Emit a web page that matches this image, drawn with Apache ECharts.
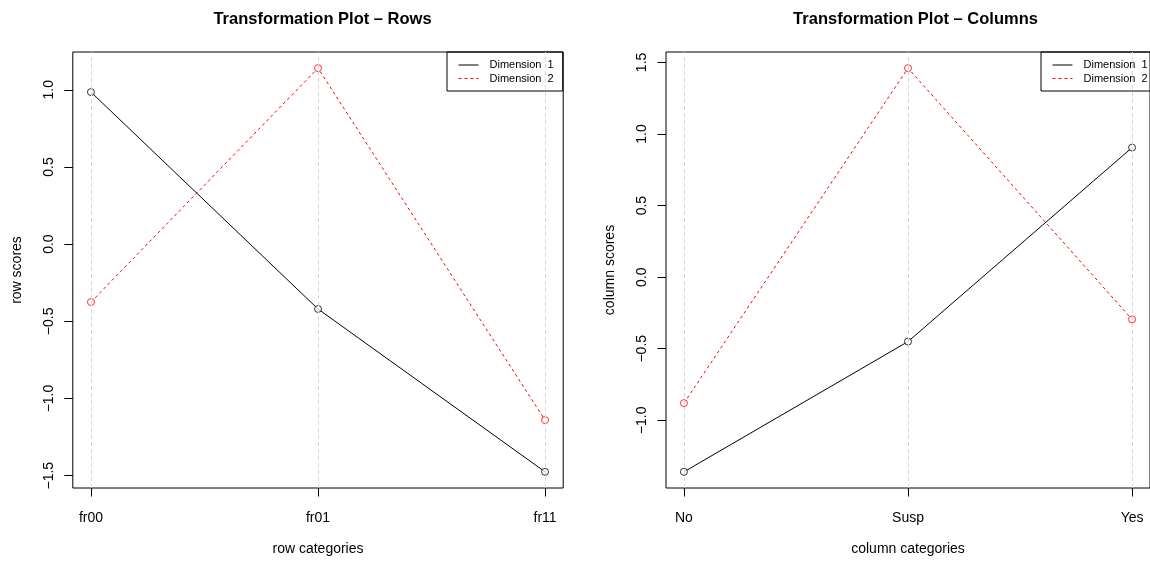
<!DOCTYPE html>
<html><head><meta charset="utf-8">
<script src="https://cdn.jsdelivr.net/npm/echarts@6/dist/echarts.min.js"></script>
<style>html,body{margin:0;padding:0;background:#fff}#c{width:1150px;height:561px}</style>
</head><body><div id="c"></div>
<script>
const rowCategories = ['fr00', 'fr01', 'fr11'];
const rowDim1 = [0.985, -0.42, -1.475];
const rowDim2 = [-0.375, 1.14, -1.14];
const rowYTicks = [-1.5, -1.0, -0.5, 0.0, 0.5, 1.0];

const colCategories = ['No', 'Susp', 'Yes'];
const colDim1 = [-1.36, -0.45, 0.905];
const colDim2 = [-0.88, 1.46, -0.295];
const colYTicks = [-1.0, -0.5, 0.0, 0.5, 1.0, 1.5];

const seriesNames = ['Dimension  1', 'Dimension  2'];
const FONT = 'Liberation Sans, Arial, Helvetica, sans-serif';

function ext(arrs) {
  const all = [].concat(...arrs);
  const mn = Math.min(...all), mx = Math.max(...all);
  const d = (mx - mn) * 0.04;
  return [mn - d, mx + d];
}
const fmtNum = v => v.toFixed(1).replace('-', '\u2212');
const xIdx = cats => cats.map((c, i) => i + 1);

const rowY = ext([rowDim1, rowDim2]);
const colY = ext([colDim1, colDim2]);

function xAxis(gi, cats, name) {
  return {
    type: 'value', gridIndex: gi, min: 1 - 0.08, max: cats.length + 0.08,
    name: name, nameLocation: 'middle', nameGap: 54,
    nameTextStyle: { fontFamily: FONT, fontSize: 14, color: '#000' },
    axisLine: { show: false, onZero: false },
    splitLine: { show: false },
    axisTick: { show: true, inside: false, length: 8.5, lineStyle: { color: '#000', width: 1 }, customValues: xIdx(cats) },
    axisLabel: { show: true, margin: 23, fontFamily: FONT, fontSize: 14, color: '#000',
      customValues: xIdx(cats), formatter: v => cats[Math.round(v) - 1] }
  };
}
function yAxis(gi, range, ticks, name) {
  return {
    type: 'value', gridIndex: gi, min: range[0], max: range[1],
    name: name, nameLocation: 'middle', nameGap: 49,
    nameTextStyle: { fontFamily: FONT, fontSize: 14, color: '#000' },
    axisLine: { show: false, onZero: false },
    splitLine: { show: false },
    axisTick: { show: true, inside: false, length: 8.5, lineStyle: { color: '#000', width: 1 }, customValues: ticks },
    axisLabel: { show: true, rotate: 90, margin: 17, fontFamily: FONT, fontSize: 14, color: '#000',
      customValues: ticks, formatter: fmtNum }
  };
}
function pts(vals) { return vals.map((v, i) => [i + 1, v]); }
function lineSeries(gi, name, vals, color, type, extra) {
  return Object.assign({
    name: name, type: 'line', xAxisIndex: gi, yAxisIndex: gi,
    data: pts(vals), symbol: 'none', showSymbol: false,
    lineStyle: { color: color, width: 1, type: type },
    itemStyle: { color: color },
    emphasis: { disabled: true }, animation: false, z: 3
  }, extra || {});
}
function pointSeries(gi, vals, color) {
  return {
    type: 'scatter', xAxisIndex: gi, yAxisIndex: gi,
    data: pts(vals), symbol: 'circle', symbolSize: 7,
    itemStyle: { color: '#fff', borderColor: color, borderWidth: 1 },
    emphasis: { disabled: true }, animation: false, silent: true, z: 4
  };
}
function makeSeries(gi, d1, d2, cats) {
  return [
    lineSeries(gi, seriesNames[0], d1, '#000', 'solid', {
      markLine: {
        silent: true, symbol: 'none', animation: false,
        label: { show: false },
        lineStyle: { color: '#d6d6d6', width: 1, type: [4, 3] },
        data: xIdx(cats).map(x => ({ xAxis: x }))
      }
    }),
    lineSeries(gi, seriesNames[1], d2, '#ff0000', [3, 3]),
    pointSeries(gi, d1, '#000'),
    pointSeries(gi, d2, '#ff0000')
  ];
}
function legend(left, top) {
  return {
    left: left, top: top, orient: 'vertical', data: seriesNames,
    borderColor: '#000', borderWidth: 1, padding: [7.5, 9, 7, 11],
    itemWidth: 20, itemHeight: 12, itemGap: 2.5,
    itemStyle: { opacity: 0 },
    lineStyle: { width: 1 },
    textStyle: { fontFamily: FONT, fontSize: 11, color: '#000', padding: [0, 0, 0, 6] },
    selectedMode: false
  };
}

const chart = echarts.init(document.getElementById('c'), null, { renderer: 'canvas' });
chart.setOption({
  backgroundColor: '#fff',
  animation: false,
  title: [
    { text: 'Transformation Plot \u2013 Rows', left: 317.5, top: 6, textAlign: 'center',
      textStyle: { fontFamily: FONT, fontSize: 16.5, fontWeight: 'bold', color: '#000' } },
    { text: 'Transformation Plot \u2013 Columns', left: 910.5, top: 6, textAlign: 'center',
      textStyle: { fontFamily: FONT, fontSize: 16.5, fontWeight: 'bold', color: '#000' } }
  ],
  grid: [
    { left: 72.8, top: 52, width: 490.4, height: 437, show: true, borderColor: '#000', borderWidth: 1, backgroundColor: 'transparent' },
    { left: 666, top: 52, width: 489, height: 437, show: true, borderColor: '#000', borderWidth: 1, backgroundColor: 'transparent' }
  ],
  legend: [legend(447, 52), legend(1041, 52)],
  xAxis: [xAxis(0, rowCategories, 'row categories'), xAxis(1, colCategories, 'column categories')],
  yAxis: [yAxis(0, rowY, rowYTicks, 'row scores'), yAxis(1, colY, colYTicks, 'column scores')],
  series: [].concat(makeSeries(0, rowDim1, rowDim2, rowCategories), makeSeries(1, colDim1, colDim2, colCategories))
});
</script></body></html>
